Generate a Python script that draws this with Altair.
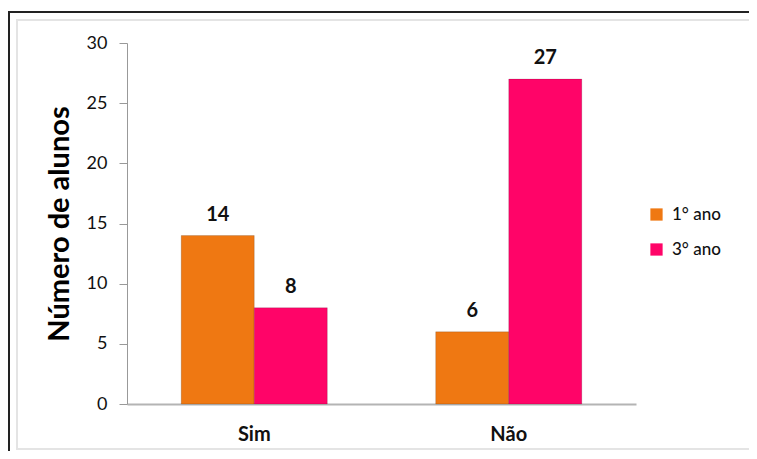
import altair as alt
import pandas as pd

categories = ["Sim", "Não"]
series = ["1° ano", "3° ano"]
values_1ano = [14, 6]
values_3ano = [8, 27]
colors = ["#EF7812", "#FF0468"]
y_ticks = [0, 5, 10, 15, 20, 25, 30]

rows = []
for c, a, b in zip(categories, values_1ano, values_3ano):
    rows.append({"resposta": c, "ano": series[0], "n": a})
    rows.append({"resposta": c, "ano": series[1], "n": b})
df = pd.DataFrame(rows)

FONT = "Lato"

x = alt.X("resposta:N", sort=categories,
          scale=alt.Scale(paddingInner=0.426, paddingOuter=0.213),
          axis=alt.Axis(title=None, labelAngle=0, ticks=False, domainColor="#b4b4b4",
                        domainWidth=2, labelFont=FONT, labelFontWeight="bold",
                        labelFontSize=20, labelColor="#111", labelPadding=20))
xo = alt.XOffset("ano:N", sort=series, scale=alt.Scale(paddingInner=0, paddingOuter=0))
y = alt.Y("n:Q", scale=alt.Scale(domain=[0, 30]),
          axis=alt.Axis(values=y_ticks, grid=False, tickSize=8, tickColor="#999",
                        domainColor="#999", labelFont=FONT, labelFontSize=18,
                        labelColor="#111", labelPadding=12,
                        title="Número de alunos", titleFont=FONT, titleFontSize=29,
                        titleFontWeight="bold", titleColor="#000", titlePadding=12))

bars = alt.Chart(df).mark_bar(stroke="#000", strokeOpacity=0.15, strokeWidth=1).encode(
    x=x, xOffset=xo, y=y,
    color=alt.Color("ano:N", sort=series,
                    scale=alt.Scale(domain=series, range=colors),
                    legend=alt.Legend(title=None, orient="none", legendX=521, legendY=163,
                                      symbolType="square", symbolSize=150,
                                      symbolStrokeWidth=0, labelFont=FONT,
                                      labelFontSize=17, labelFontWeight=500,
                                      labelColor="#111",
                                      rowPadding=17, labelOffset=7)),
)

labels = alt.Chart(df).mark_text(dy=-21, font=FONT, fontSize=20, fontWeight="bold",
                                 color="#111").encode(
    x=x, xOffset=xo, y=y, text="n:Q"
)

frame_df = pd.DataFrame({"k": [0]})
outer = alt.Chart(frame_df).mark_rect(fill=None, stroke="#222", strokeWidth=2).encode(
    x=alt.value(-118), x2=alt.value(700), y=alt.value(-31), y2=alt.value(500)
)
inner = alt.Chart(frame_df).mark_rect(fill=None, stroke="#e4e4e4", strokeWidth=2).encode(
    x=alt.value(-110), x2=alt.value(700), y=alt.value(-23), y2=alt.value(406)
)

chart = alt.layer(outer, inner, bars, labels).properties(
    width=509, height=361,
    autosize=alt.AutoSizeParams(type="none"),
    padding={"left": 119, "top": 35, "right": 113, "bottom": 47},
    background="white",
).configure_view(strokeWidth=0)

chart.save("out.html", embed_options={"renderer": "svg", "actions": False})
